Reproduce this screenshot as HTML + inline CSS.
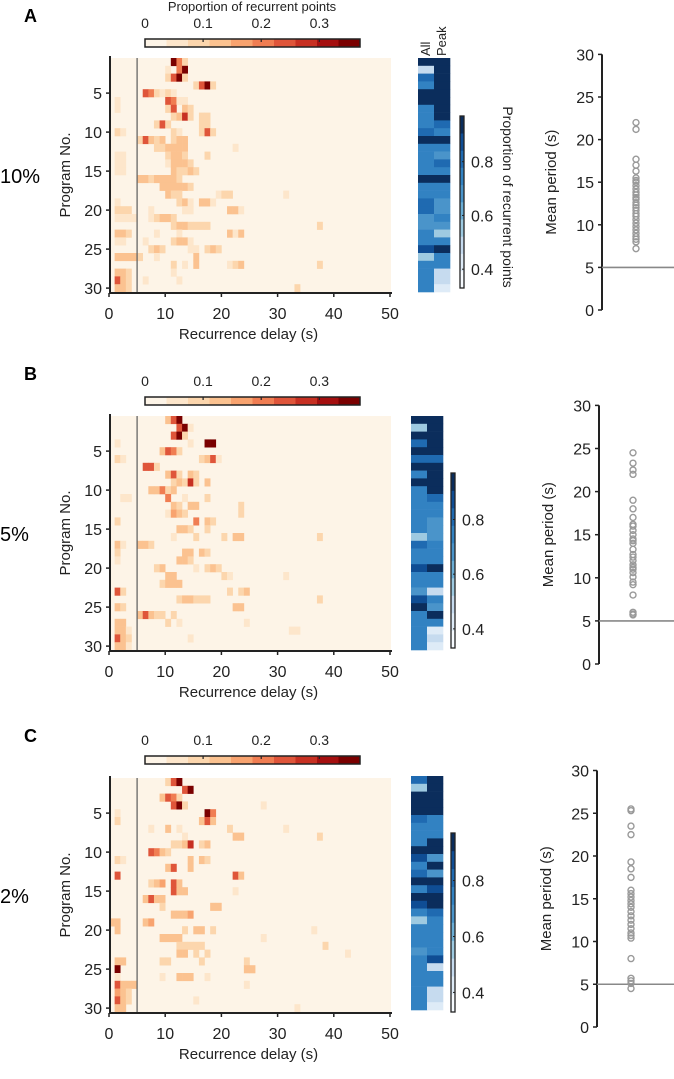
<!DOCTYPE html>
<html><head><meta charset="utf-8"><style>
html,body{margin:0;padding:0;background:#fff;}
svg{display:block;font-family:"Liberation Sans",Arial,sans-serif;}
</style></head><body>
<svg id="fig" width="674" height="1079" viewBox="0 0 674 1079" xmlns="http://www.w3.org/2000/svg"></svg>
<script>
// ---- data ----
const delayTicks = [0,10,20,30,40,50];
const programTicks = [5,10,15,20,25,30];
const heatTicks = ["0","0.1","0.2","0.3"];
const heatTickValues = [0,0.1,0.2,0.3];
const blueTicks = [0.4,0.6,0.8];
const periodTicks = [0,5,10,15,20,25,30];
const panelLabels = ["A","B","C"];
const thresholdLabels = ["10%","5%","2%"];
// heatmap cells: "col:level" (level 0-9 → proportion level*0.04)
const heatA = [
"11:9 12:5 13:2","10:1 12:5 13:9","10:2 11:6 12:9 13:2","15:2 16:6 17:9 18:2",
"6:6 7:5 8:2 9:1 10:2 11:1","1:1 10:6 11:5 12:1 13:1","1:1 10:2 11:6 13:3 14:2","11:2 12:3 13:7 14:2 16:2 17:2",
"8:2 9:6 10:2 16:2 17:2","1:2 2:1 11:2 12:1 16:2 17:6 18:2","5:2 6:6 7:3 8:2 9:3 11:2 12:3 13:3","8:2 9:2 10:3 11:3 12:3 13:3 22:1",
"1:1 2:1 10:2 11:3 12:3 13:2 17:2","1:1 2:1 10:1 11:3 12:3 13:3 14:2","1:1 2:1 11:3 12:2 13:2 14:3 15:2","5:3 6:3 7:2 8:3 9:3 10:3 11:3 12:2",
"9:3 10:3 11:3 12:3 13:3 14:2","10:3 11:2 12:2 19:1 20:2 21:2 31:1","1:1 12:2 13:3 14:1 16:3 17:3 18:1","1:2 2:2 3:2 7:1 13:1 14:1 21:3 22:3 23:1",
"1:1 2:1 3:1 4:1 7:1 8:2 9:3 10:3 11:2","11:2 12:3 13:3 14:2 15:2 16:2 17:2 37:2","1:3 2:3 3:2 8:1 12:1 21:3 22:1 23:3","1:1 2:1 6:1 11:2 12:3 13:3 14:1",
"7:2 8:3 9:2 14:1 15:1 17:2 18:3 19:2","1:3 2:3 3:3 4:3 5:2 8:1 15:3","11:2 13:1 15:3 21:1 22:2 23:3 37:2","1:3 2:3 3:2 11:1",
"1:6 2:3 3:2 6:1 12:1","1:3 2:3 3:2 33:2"];
const heatB = [
"10:3 11:6 12:9","12:6 13:9 14:1","11:6 12:9 13:2","1:1 14:1 17:9 18:9",
"9:3 10:6 11:5 12:2","1:2 2:1 16:2 17:3 18:6 19:1","6:6 7:6 8:2","10:3 11:6 12:2 14:3 15:2",
"11:2 12:3 13:2 14:7 15:2 17:3","7:3 8:3 9:5 10:2 11:3","2:1 3:1 10:5 13:1 17:2","11:3 12:2 14:3 15:3 23:2",
"10:1 11:4 12:3 13:2 23:2","1:2 15:5 17:3 18:2","12:3 13:3 14:2 17:2","11:1 15:2 20:2 22:3 23:3 37:2",
"1:3 2:1 5:3 6:3 7:2","1:2 13:3 14:3 16:3 17:2","1:1 12:3 13:3 14:2","8:2 9:3 15:1 17:2 18:3 19:2",
"10:3 11:3 20:2 21:1 31:1","9:2 10:3 11:3 12:3","1:6 2:2 21:2 23:2 24:3","12:2 13:3 14:3 15:2 16:2 17:2 37:2",
"1:3 2:2 22:3 23:3","5:3 6:6 7:3 8:2 9:2 11:2","1:3 2:3 10:2 12:1 24:1","1:3 2:3 3:1 32:1 33:1",
"1:6 2:3 3:2 14:1","1:3 2:3 3:1"];
const heatC = [
"10:2 11:6 12:9","13:6 14:9","9:3 10:6 11:5 12:2","11:6 12:9 13:2 27:1",
"1:1 17:9 18:5","1:2 16:3 17:6 18:3","7:1 10:3 12:1 21:2 31:1","13:1 22:3 23:3 37:2",
"11:2 12:2 13:3 14:7 16:2 17:3","7:6 8:5 9:3 10:2","1:2 2:1 14:3 16:3 17:2","10:3 11:6 14:3",
"1:6 22:6 23:3","7:2 8:3 9:4 11:6 12:3","11:6 12:3 13:3 22:1","6:3 7:6 8:3 9:3",
"9:2 18:3 19:3","11:3 12:3 13:3 14:4","0:3 1:3 6:3 7:4","1:3 13:2 15:3 16:3 18:2 36:1",
"9:3 10:3 11:3 12:3 27:1","12:2 13:2 14:2 15:2 16:2 38:2","12:3 13:3 15:2 17:2 42:1","1:3 2:3 9:2 10:2 16:2 24:2",
"1:9 24:3 25:3","1:1 9:1 12:3 13:3 14:3 17:1","1:6 2:3 3:3 4:3 24:1","1:4 2:3 3:2",
"1:6 2:3 3:2 15:1","1:3 2:3 33:1"];
// All / Peak proportion levels (0-9)
const allA  = [9,2,7,6,9,9,6,6,6,7,9,6,6,6,6,9,6,6,7,7,5,5,6,6,8,3,6,6,6,6];
const peakA = [9,9,9,9,9,9,9,9,7,6,9,6,5,7,6,9,6,6,5,5,6,5,3,6,9,6,6,2,2,1];
const allB  = [9,3,9,7,9,7,9,6,9,6,6,6,6,6,6,3,7,6,6,8,6,6,5,8,9,6,6,6,6,6];
const peakB = [9,9,9,9,9,7,9,9,9,9,7,6,6,5,5,5,6,6,6,9,6,6,2,6,5,9,6,1,2,1];
const allC  = [7,3,9,9,9,7,6,6,6,9,8,6,7,9,6,9,8,6,3,6,6,6,5,6,6,6,6,6,6,6];
const peakC = [9,9,9,9,9,6,6,6,9,9,5,9,5,9,8,9,9,7,6,6,6,6,6,8,2,6,6,2,2,1];
// mean periods (s)
const periodA = [22,21.2,17.7,17,16.3,15.5,15.2,15,14.6,14.2,13.8,13.5,13.2,13,12.6,12.3,12,11.7,11.3,11,10.6,10.2,9.8,9.4,9,8.6,8.3,8,7.2];
const periodB = [24.5,23.3,22.5,22,19,18,17,16.2,16,15.5,15,14.5,14.3,14,13.3,12.7,12.4,12,11.5,11.2,11,10.6,10.1,9.5,9.2,8,6,5.8,5.7];
const periodC = [25.5,25.3,23.5,22.5,19.3,18.5,17.5,16,15.6,15.2,14.8,14.4,14,13.5,13,12.5,12,11.5,11,10.7,10.4,8,5.7,5.4,5.1,4.5];

const heatColors=["#fdf4e7","#fde6cb","#fcd6ad","#fbc290","#f8a36f","#f07d52","#df553a","#c73022","#a50f0f","#7a0000"];
const blueColors=["#f7fbff","#deebf7","#c6dbef","#9ecae1","#6baed6","#4a94ca","#3282c2","#1f6ab1","#0f4d94","#0b2d5c"];

const NS="http://www.w3.org/2000/svg";
const svg=document.getElementById('fig');
function mk(tag,attrs,parent){const e=document.createElementNS(NS,tag);for(const k in attrs)e.setAttribute(k,attrs[k]);(parent||svg).appendChild(e);return e;}
function txt(s,attrs,parent){const e=mk('text',attrs,parent);e.textContent=s;return e;}

const panels=[
 {heat:heatA,all:allA,peak:peakA,per:periodA,top:58,cb:39,strip:[418,58],bcb:[460,116,288],sc:[602,310,8.52],title:true,blueLabel:true},
 {heat:heatB,all:allB,peak:peakB,per:periodB,top:416,cb:397,strip:[411,416],bcb:[451,473,648],sc:[599,664,8.62],title:false,blueLabel:false},
 {heat:heatC,all:allC,peak:peakC,per:periodC,top:778,cb:756,strip:[411,776],bcb:[451,833,1012],sc:[597,1027,8.55],title:false,blueLabel:false}
];
const X0=108, XS=5.62, RH=7.8;

panels.forEach((p,pi)=>{
 const g=mk('g',{});
 
 
 const xs=v=>X0+v*XS;
 const ys=r=>p.top+(r-1)*RH;
 const bottom=p.top+30*RH;
 const pl=txt(panelLabels[pi],{x:24,y:p.top-36,'font-size':18,'font-weight':'bold'},g);
 
 
 const th=txt(thresholdLabels[pi],{x:0,y:p.top+125,'font-size':20},g);
 
 
 const bg=mk('rect',{x:xs(0)+1,y:p.top,width:xs(50)-xs(0)+1,height:30*RH,fill:heatColors[0]},g);
 
 
 p.heat.forEach((row,ri)=>{
  row.split(' ').forEach(c=>{
   const [col,lv]=c.split(':').map(Number);
   const r=mk('rect',{x:xs(col)+1,y:ys(ri+1),width:XS+0.3,height:RH+0.3,fill:heatColors[lv]},g);
   
   
  });
 });
 const vl=mk('line',{x1:xs(5)+1,x2:xs(5)+1,y1:p.top,y2:bottom,stroke:'#666','stroke-width':1.3},g);
 
 
 const ya=mk('line',{x1:X0+2,x2:X0+2,y1:p.top-2,y2:bottom+1,stroke:'#222','stroke-width':2},g);
 
 
 const xa=mk('line',{x1:X0+1,x2:xs(50)+3,y1:bottom+1,y2:bottom+1,stroke:'#222','stroke-width':2},g);
 
 
 programTicks.forEach(t=>{
  const y=ys(t)+RH/2;
  mk('line',{x1:X0-2,x2:X0+2,y1:y,y2:y,stroke:'#222','stroke-width':1.5},g);
  const tl=txt(String(t),{x:X0-6,y:y+6,'font-size':16,'text-anchor':'end',fill:'#222'},g);
  
  
 });
 delayTicks.forEach(t=>{
  const x=xs(t)+1;
  mk('line',{x1:x,x2:x,y1:bottom+1,y2:bottom+5,stroke:'#222','stroke-width':1.5},g);
  const tl=txt(String(t),{x:x,y:bottom+27,'font-size':16,'text-anchor':'middle',fill:'#222'},g);
  
  
 });
 const xt=txt('Recurrence delay (s)',{x:xs(25),y:bottom+47,'font-size':15,'text-anchor':'middle',fill:'#222'},g);
 
 
 const yt=txt('Program No.',{x:0,y:0,'font-size':15,'text-anchor':'middle',fill:'#222',transform:`translate(70,${p.top+117}) rotate(-90)`},g);
 
 
 const cbx0=145, cbw=215, cbMax=0.37;
 const cbs=v=>cbx0+v/cbMax*cbw;
 for(let i=0;i<heatColors.length;i++){
  const r=mk('rect',{x:cbx0+i*cbw/10,y:p.cb,width:cbw/10+0.5,height:8,fill:heatColors[i]},g);
  
  
 }
 mk('rect',{x:cbx0,y:p.cb,width:cbw,height:8,fill:'none',stroke:'#222','stroke-width':1.5},g);
 heatTickValues.forEach((v,i)=>{
  const x=cbs(v);
  if(v>0) mk('line',{x1:x,x2:x,y1:p.cb,y2:p.cb+3,stroke:'#222','stroke-width':1.2},g);
  const tl=txt(heatTicks[i],{x:x,y:p.cb-11,'font-size':14,'text-anchor':'middle',fill:'#222'},g);
  
  
 });
 if(p.title){
  const ct=txt('Proportion of recurrent points',{x:252,y:11,'font-size':13,'text-anchor':'middle',fill:'#222'},g);
  
  
  const a1=txt('All',{x:0,y:0,'font-size':13,fill:'#222',transform:`translate(430,56) rotate(-90)`},g);
  
  
  const a2=txt('Peak',{x:0,y:0,'font-size':13,fill:'#222',transform:`translate(446,56) rotate(-90)`},g);
  
  
 }
 const [sx,sy]=p.strip;
 p.all.forEach((v,i)=>{
  const r=mk('rect',{x:sx,y:sy+i*RH,width:16.3,height:RH+0.3,fill:blueColors[v]},g);
  
  
 });
 p.peak.forEach((v,i)=>{
  const r=mk('rect',{x:sx+16,y:sy+i*RH,width:16.3,height:RH+0.3,fill:blueColors[v]},g);
  
  
 });
 const [bx,by0,by1]=p.bcb;
 const bMin=0.33,bMax=0.97;
 const bs=v=>by1-(v-bMin)/(bMax-bMin)*(by1-by0);
 for(let i=0;i<10;i++){
  const h=(by1-by0)/10;
  const r=mk('rect',{x:bx,y:by1-(i+1)*h,width:4,height:h+0.3,fill:blueColors[i]},g);
  
  
 }
 mk('rect',{x:bx,y:by0,width:4,height:by1-by0,fill:'none',stroke:'#222','stroke-width':1.3},g);
 blueTicks.forEach(v=>{
  const y=bs(v);
  mk('line',{x1:bx+2,x2:bx+4,y1:y,y2:y,stroke:'#222','stroke-width':1},g);
  const tl=txt(v.toFixed(1),{x:bx+11,y:y+6,'font-size':16,fill:'#222'},g);
  
  
 });
 if(p.blueLabel){
  const bl=txt('Proportion of recurrent points',{x:0,y:0,'font-size':14,'text-anchor':'middle',fill:'#222',transform:`translate(503,197) rotate(90)`},g);
  
  
 }
 const [ax,ay0,ppu]=p.sc;
 const sy_=v=>ay0-v*ppu;
 const sa=mk('line',{x1:ax,x2:ax,y1:sy_(30),y2:ay0,stroke:'#222','stroke-width':2},g);
 
 
 periodTicks.forEach(t=>{
  const y=sy_(t);
  mk('line',{x1:ax-4,x2:ax,y1:y,y2:y,stroke:'#222','stroke-width':1.5},g);
  const tl=txt(String(t),{x:ax-8,y:y+6,'font-size':16,'text-anchor':'end',fill:'#222'},g);
  
  
 });
 const hl=mk('line',{x1:ax,x2:674,y1:sy_(5),y2:sy_(5),stroke:'#888','stroke-width':1.6},g);
 
 
 const st=txt('Mean period (s)',{x:0,y:0,'font-size':15,'text-anchor':'middle',fill:'#222',transform:`translate(${ax-46},${sy_(15)}) rotate(-90)`},g);
 
 
 p.per.forEach(v=>{
  const c=mk('circle',{cx:ax+34,cy:sy_(v),r:3,fill:'none',stroke:'#999','stroke-width':1.4},g);
  
  
 });
});
</script>
</body></html>
